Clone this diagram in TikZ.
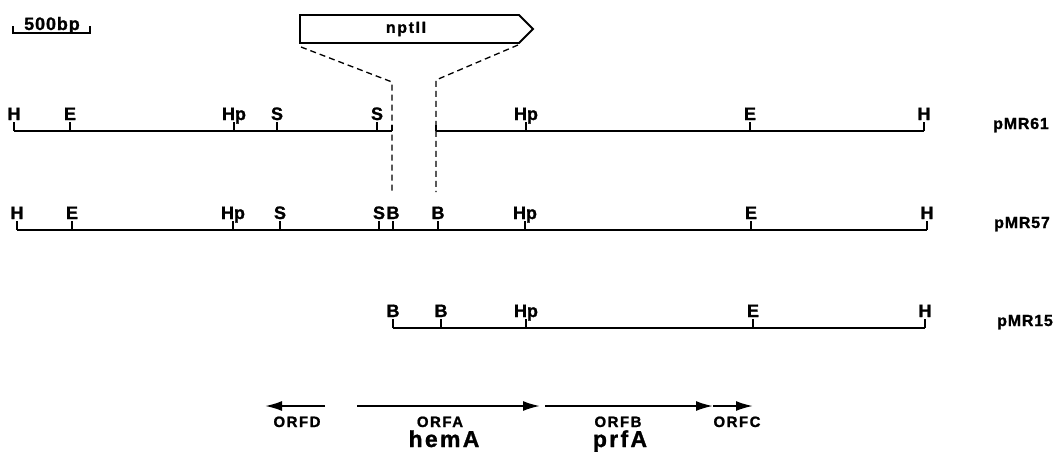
\documentclass[tikz,border=0pt]{standalone}
\usepackage{fontspec}
\setmainfont{Liberation Sans}
\newfontfamily\sitefont{Liberation Sans Bold}[FakeBold=1.2]
\newfontfamily\spacedfont{Liberation Sans Bold}[LetterSpace=10,FakeBold=1.2]
\newfontfamily\plasfont{Liberation Sans Bold}[LetterSpace=5,FakeBold=1.2]
\usetikzlibrary{arrows.meta}
\tikzset{
  dna/.style={line width=2pt},
  tk/.style={line width=2pt},
  site/.style={font=\sitefont\fontsize{18}{18}\selectfont, anchor=base, inner sep=0pt, yshift=2pt},
  plas/.style={font=\plasfont\fontsize{16}{16}\selectfont, anchor=base west, inner sep=0pt},
  guide/.style={line width=1.3pt, dash pattern=on 6pt off 4pt},
  orf/.style={line width=2pt, -{Latex[length=17pt,width=10pt]}},
  orflab/.style={font=\spacedfont\fontsize{15}{15}\selectfont, anchor=base, inner sep=0pt},
  genelab/.style={font=\spacedfont\fontsize{23}{23}\selectfont, anchor=base, inner sep=0pt},
}
\newcommand{\rsite}[4]{%
  \coordinate (#1) at (#2,#3);
  \draw[tk] (#1) -- ++(0,-9) node[site] (#1l) {#4};}
\begin{document}
\begin{tikzpicture}[x=1pt,y=-1pt]
\useasboundingbox (0,0) rectangle (1061,453);

% scale bar
\coordinate (sbL) at (13,26);
\coordinate (sbR) at (90,26);
\draw[line width=1.4pt] (sbL) -- ++(0,7) -| (sbR);
\node[font=\plasfont\fontsize{18}{18}\selectfont, anchor=base, inner sep=0pt] (sbt) at (52,30) {500bp};

% nptII box
\coordinate (nA) at (300,15);
\coordinate (nB) at (519,15);
\coordinate (nC) at (533,29);
\coordinate (nD) at (519,43);
\coordinate (nE) at (300,43);
\draw[line width=1.8pt, fill=white] (nA) -- (nB) -- (nC) -- (nD) -- (nE) -- cycle;
\node[font=\spacedfont\fontsize{16}{16}\selectfont, inner sep=0pt] (npt) at (406,29) {nptII};

% pMR61
\coordinate (a0) at (14,131);
\coordinate (aCutL) at (392,131);
\coordinate (aCutR) at (436,131);
\coordinate (a9) at (924,131);
\draw[dna] (a0) -- (aCutL);
\draw[dna] (aCutR) -- (a9);
\draw[tk] (aCutL) -- ++(0,-6);
\draw[tk] (aCutR) -- ++(0,-6);
\rsite{aH1}{14}{131}{H}
\rsite{aE1}{70}{131}{E}
\rsite{aHp1}{234}{131}{Hp}
\rsite{aS1}{277}{131}{S}
\rsite{aS2}{377}{131}{S}
\rsite{aHp2}{526}{131}{Hp}
\rsite{aE2}{750}{131}{E}
\rsite{aH2}{924}{131}{H}
\node[plas] (p61) at (993,129) {pMR61};

% pMR57
\coordinate (b0) at (17,230);
\coordinate (b9) at (927,230);
\draw[dna] (b0) -- (b9);
\rsite{bH1}{17}{230}{H}
\rsite{bE1}{72}{230}{E}
\rsite{bHp1}{233}{230}{Hp}
\rsite{bS1}{280}{230}{S}
\rsite{bS2}{379}{230}{S}
\rsite{bB1}{393}{230}{B}
\rsite{bB2}{438}{230}{B}
\rsite{bHp2}{525}{230}{Hp}
\rsite{bE2}{751}{230}{E}
\rsite{bH2}{927}{230}{H}
\node[plas] (p57) at (994,228) {pMR57};

% pMR15
\coordinate (c0) at (393,328);
\coordinate (c9) at (925,328);
\draw[dna] (c0) -- (c9);
\rsite{cB1}{393}{328}{B}
\rsite{cB2}{441}{328}{B}
\rsite{cHp}{526}{328}{Hp}
\rsite{cE}{753}{328}{E}
\rsite{cH}{925}{328}{H}
\node[plas] (p15) at (997,326) {pMR15};

% dashed guides
\coordinate (gL1) at (301,47);
\coordinate (gL2) at (392,82);
\coordinate (gL3) at (392,192);
\coordinate (gR1) at (518,45);
\coordinate (gR2) at (436,80);
\coordinate (gR3) at (436,192);
\draw[guide] (gL1) -- (gL2) -- (gL3);
\draw[guide] (gR1) -- (gR2) -- (gR3);

% ORFs
\coordinate (dS) at (325,406); \coordinate (dE) at (265,406);
\coordinate (aS) at (357,406); \coordinate (aE) at (540,406);
\coordinate (bS) at (545,406); \coordinate (bE) at (713,406);
\coordinate (cS) at (713,406); \coordinate (cE) at (753,406);
\draw[orf] (dS) -- (dE);
\draw[orf] (aS) -- (aE);
\draw[orf] (bS) -- (bE);
\draw[orf] (cS) -- (cE);
\node[orflab] (lD) at (297,427) {ORFD};
\node[orflab] (lA) at (440,427) {ORFA};
\node[orflab] (lB) at (618,427) {ORFB};
\node[orflab] (lC) at (737,427) {ORFC};
\node[genelab] (hemA) at (444,447) {hemA};
\node[genelab] (prfA) at (620,447) {prfA};
\end{tikzpicture}
\end{document}
